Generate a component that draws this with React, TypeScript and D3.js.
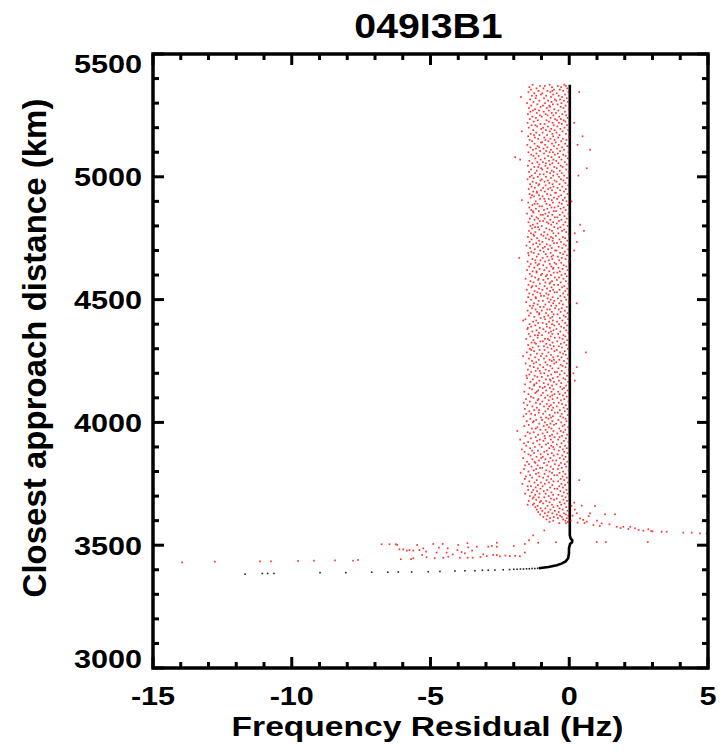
import React from "react";
import * as d3 from "d3";

// ---------- data ----------
const title = "049I3B1";
const xLabel = "Frequency Residual (Hz)";
const yLabel = "Closest approach distance (km)";
const xTicks = [-15, -10, -5, 0, 5];
const yTicks = [3000, 3500, 4000, 4500, 5000, 5500];

// Red residual cloud: each row = [distance km, residual Hz ...]
const cloudRows: number[][] = [
[5375,-1.32,-.71,-.18],[5370,-1.05,-.88,-.41,-.12],[5365,-1.44,-.62,-.29],[5360,-1.18,-.93,-.07],
[5355,-1.38,-.55,-.34],[5350,-1.11,-.79,-.22,-.61],[5345,-1.47,-.68,-.03,.36],[5340,-1.26,-.97,-.45],
[5335,-1.02,-.58,-.15],[5330,-1.35,-.83,-.38,-1.19],[5325,-1.74,-.66,-.26],[5320,-1.21,-.91,-.09],
[5315,-1.41,-.52,-.33],[5310,-1.08,-.76,-.47,-.19],[5305,-1.29,-.64,-.05],[5300,-1.52,-.87,-.28],
[5295,-1.15,-.59,-.42],[5290,-1.37,-.95,-.13,-.72],[5285,-1.03,-.69,-.31],[5280,-1.45,-.81,-.21],
[5275,-1.23,-.54,-.02],[5270,-1.09,-.74,-.39,-1.31],[5265,-1.40,-.92,-.16],[5260,-1.17,-.63,-.48],
[5255,-1.49,-.85,-.25],[5250,-1.06,-.57,-.11,-.78],[5245,-1.33,-.99,-.36],[5240,-1.20,-.67,-.06],
[5235,-1.42,-.51,-.30],[5230,-1.13,-.82,-.44,-.20],[5225,-1.28,-.73,-.14],[5220,-1.50,-.60,-.37,.18],
[5215,-1.04,-.89,-.27],[5210,-1.36,-.56,-.08,-1.22],[5205,-1.16,-.77,-.43],[5200,-1.46,-.94,-.17],
[5195,-1.01,-.65,-.32],[5190,-1.30,-.84,-.04,-.53],[5185,-1.71,-.70,-.24],[5180,-1.19,-.96,-.46],
[5175,-1.39,-.61,-.12],[5170,-1.07,-.80,-.35,-1.27],[5165,-1.48,-.58,-.01,.48],[5160,-1.24,-.90,-.40],
[5155,-1.12,-.68,-.23],[5150,-1.43,-.53,-.10,-.86],[5145,-1.34,-.75,-.29],[5140,-1.02,-.98,-.49],
[5135,-1.25,-.62,-.15],[5130,-1.51,-.87,-.38,.30],[5125,-1.14,-.55,-.07],[5120,-1.40,-.79,-.26,-1.09],
[5115,-1.20,-.93,-.44],[5110,-1.31,-.66,-.19,.75],[5105,-1.05,-.83,-.33],[5100,-1.47,-.59,-.03,-.71],
[5095,-1.18,-.91,-.41],[5090,-1.37,-.52,-.22],[5085,-1.10,-.76,-.13,-1.29],[5080,-1.95,-.64,-.36],
[5075,-1.22,-.88,-.05],[5070,-1.77,-1.03,-.57,-.28],[5065,-1.44,-.73,-.47],[5060,-1.15,-.95,-.16],
[5055,-1.33,-.61,-.39,-.84],[5050,-1.08,-.70,-.09],[5045,-1.49,-.86,-.31],[5040,-1.26,-.54,-.24,-1.12],
[5035,-1.01,-.78,-.45,.63],[5030,-1.38,-.97,-.11],[5025,-1.17,-.63,-.34],[5020,-1.45,-.81,-.02,-.56],
[5015,-1.23,-.69,-.27],[5010,-1.06,-.92,-.43],[5005,-1.35,-.58,-.18,.33],[5000,-1.13,-.84,-.37,-1.42],
[4995,-1.28,-.66,-.08],[4990,-1.50,-.99,-.30],[4985,-1.04,-.53,-.21,-.77],[4980,-1.32,-.89,-.46],
[4975,-1.19,-.72,-.14],[4970,-1.41,-.60,-.35,-1.08],[4965,-1.11,-.85,-.04],[4960,-1.36,-.57,-.25],
[4955,-1.24,-.94,-.42,-.68],[4950,-1.46,-.76,-.12],[4945,-1.02,-.62,-.33],[4940,-1.30,-.88,-.19,-1.17],
[4935,-1.16,-.51,-.48],[4930,-1.43,-.80,-.06],[4925,-1.09,-.67,-.29,-1.34],[4920,-1.27,-.96,-.38],
[4915,-1.39,-.55,-.16],[4910,-1.05,-.74,-.44,-.90],[4905,-1.71,-.63,-.23],[4900,-1.21,-.87,-.10,.08],
[4895,-1.48,-.59,-.36],[4890,-1.14,-.82,-.27,-1.25],[4885,-1.33,-.70,-.05],[4880,-1.07,-.98,-.40],
[4875,-1.44,-.64,-.20,-.53],[4870,-1.20,-.79,-.31],[4865,-1.37,-.91,-.13],[4860,-1.10,-.56,-.47,-1.31],
[4855,-1.29,-.73,-.24],[4850,-1.52,-.86,-.03],[4845,-1.03,-.61,-.34,-.95],[4840,-1.35,-.77,-.17],
[4835,-1.18,-.52,-.43],[4830,-1.42,-.89,-.09,-1.12],[4825,-1.25,-.68,-.28],[4820,-1.06,-.94,-.37],
[4815,-1.47,-.58,-.14,-.81],[4810,-1.15,-.75,-.45],[4805,-1.31,-.65,-.21,.39],[4800,-1.40,-.99,-.06],
[4795,-1.12,-.54,-.32,-1.23],[4790,-1.34,-.83,-.41],[4785,-1.08,-.71,-.18],[4780,-1.45,-.62,-.26,.53],
[4775,-1.22,-.90,-.11],[4770,-1.38,-.57,-.39,.20],[4765,-1.01,-.78,-.02,-1.29],[4760,-1.27,-.93,-.48],
[4755,-1.49,-.66,-.23],[4750,-1.16,-.84,-.15,-.59],[4745,-1.36,-.73,-.35],[4740,-1.09,-.60,-.07],
[4735,-1.43,-.97,-.30,.27],[4730,-1.19,-.55,-.44],[4725,-1.30,-.81,-.19,-1.06],[4720,-1.54,-.69,-.12],
[4715,-1.13,-.88,-.38],[4710,-1.41,-.63,-.25,-.95],[4705,-1.24,-.76,-.04],[4700,-1.05,-.51,-.46,.18],
[4695,-1.37,-.92,-.16],[4690,-1.28,-.67,-.33,-1.48],[4685,-1.11,-.85,-.22],[4680,-1.46,-.58,-.08],
[4675,-1.17,-.79,-.41,-.64],[4670,-1.80,-.96,-.27],[4665,-1.33,-.61,-.13],[4660,-1.04,-.74,-.36,-1.22],
[4655,-1.50,-.87,-.01],[4650,-1.21,-.53,-.29],[4645,-1.39,-.70,-.47,-1.09],[4640,-1.14,-.94,-.20],
[4635,-1.44,-.65,-.10],[4630,-1.26,-.82,-.39,-.57],[4625,-1.07,-.59,-.24],[4620,-1.52,-.90,-.06],
[4615,-1.32,-.72,-.34,-1.18],[4610,-1.18,-.56,-.43],[4605,-1.42,-.98,-.15],[4600,-1.02,-.66,-.28,-.80],
[4595,-1.35,-.84,-.09],[4590,-1.23,-.52,-.37],[4585,-1.57,-.77,-.21,-1.10],[4580,-1.12,-.93,-.45],
[4575,-1.40,-.62,-.12],[4570,-1.29,-.86,-.31,-.68],[4565,-1.06,-.71,-.03],[4560,-1.47,-.55,-.40],
[4555,-1.19,-.89,-.18,-1.33],[4550,-1.36,-.64,-.26],[4545,-1.09,-.80,-.07],[4540,-1.53,-.97,-.35,-.58],
[4535,-1.25,-.69,-.14],[4530,-1.15,-.53,-.44],[4525,-1.44,-.83,-.22,-1.04],[4520,-1.31,-.75,-.05],
[4515,-1.02,-.91,-.32],[4510,-1.48,-.60,-.17,-1.21],[4505,-1.20,-.78,-.41],[4500,-1.38,-.67,-.11],
[4495,-1.10,-.95,-.29,-.54],[4490,-1.55,-.73,-.02],[4485,-1.27,-.58,-.36,.27],[4480,-1.14,-.86,-.23],
[4475,-1.42,-.65,-.47,-1.30],[4470,-1.05,-.92,-.09],[4465,-1.34,-.51,-.27],[4460,-1.21,-.79,-.38,-.70],
[4455,-1.50,-.99,-.16],[4450,-1.16,-.63,-.31],[4445,-1.39,-.84,-.06,-1.08],[4440,-1.08,-.56,-.42],
[4435,-1.45,-.76,-.20],[4430,-1.26,-.90,-.13,-.61],[4425,-1.03,-.68,-.34],[4420,-1.58,-.87,-.04],
[4415,-1.66,-.59,-.25,-1.19],[4410,-1.30,-.73,-.44],[4405,-1.12,-.96,-.15],[4400,-1.43,-.62,-.37,-.82],
[4395,-1.22,-.54,-.08],[4390,-1.37,-.81,-.29],[4385,-1.06,-.70,-.19,-1.49],[4380,-1.51,-.93,-.46],
[4375,-1.18,-.57,-.11],[4370,-1.33,-.85,-.32,-.66],[4365,-1.09,-.74,-.03],[4360,-1.46,-.61,-.40],
[4355,-1.24,-.98,-.21,-1.13],[4350,-1.40,-.67,-.14],[4345,-1.14,-.52,-.35],[4340,-1.55,-.88,-.24,-.77],
[4335,-1.29,-.72,-.07],[4330,-1.04,-.95,-.43],[4325,-1.36,-.60,-.18,-1.25],[4320,-1.20,-.83,-.30],
[4315,-1.48,-.69,-.10],[4310,-1.11,-.56,-.38,-.91],[4305,-1.32,-.78,-.26],[4300,-1.42,-.64,-.05],
[4295,-1.07,-.89,-.45,-1.37],[4290,-1.27,-.53,-.16],[4285,-1.53,-.75,-.33,.60],[4280,-1.16,-.97,-.22],
[4275,-1.39,-.66,-.12],[4270,-1.66,-.82,-.41,-1.02],[4265,-1.23,-.58,-.28],[4260,-1.45,-.91,-.06],
[4255,-1.10,-.71,-.36,-.55],[4250,-1.34,-.63,-.19],[4245,-1.19,-.86,-.47],[4240,-1.57,-.54,-.09,-1.28],
[4235,-1.05,-.79,-.31],[4230,-1.41,-.68,-.24],[4225,-1.28,-.94,-.13,.27],[4220,-1.13,-.61,-.39],
[4215,-1.49,-.85,-.02],[4210,-1.21,-.73,-.27,-1.06],[4205,-1.37,-.52,-.44],[4200,-1.03,-.90,-.17,.15],
[4195,-1.44,-.65,-.34],[4190,-1.25,-.77,-.08,-1.54],[4185,-1.15,-.99,-.42],[4180,-1.52,-.59,-.21],
[4175,-1.31,-.84,-.14,-.70],[4170,-1.08,-.67,-.37,.20],[4165,-1.40,-.55,-.04],[4160,-1.18,-.92,-.29],
[4155,-1.59,-.76,-.46,-1.26],[4150,-1.27,-.62,-.11],[4145,-1.06,-.88,-.32],[4140,-1.43,-.70,-.19,-.96],
[4135,-1.34,-.57,-.25],[4130,-1.12,-.83,-.06],[4125,-1.62,-.64,-.40,-1.17],[4120,-1.22,-.95,-.15],
[4115,-1.47,-.53,-.35],[4110,-1.01,-.78,-.23,-.61],[4105,-1.38,-.69,-.09],[4100,-1.29,-.87,-.43],
[4095,-1.56,-.60,-.18,-1.11],[4090,-1.14,-.74,-.30],[4085,-1.42,-.97,-.03],[4080,-1.20,-.56,-.38,-1.64],
[4075,-1.05,-.81,-.26],[4070,-1.51,-.66,-.12],[4065,-1.33,-.91,-.45,-.72],[4060,-1.17,-.58,-.20],
[4055,-1.60,-.77,-.07],[4050,-1.26,-.63,-.34,-1.09],[4045,-1.44,-.86,-.16],[4040,-1.10,-.52,-.41],
[4035,-1.37,-.94,-.27,-1.55],[4030,-1.23,-.71,-.05],[4025,-1.65,-.59,-.32],[4020,-1.02,-.83,-.22,-.66],
[4015,-1.40,-.75,-.13],[4010,-1.19,-.98,-.39],[4005,-1.53,-.61,-.10,-1.28],[4000,-1.31,-.88,-.29],
[3995,-1.08,-.68,-.47],[3990,-1.46,-.55,-.17,-.80],[3985,-1.62,-.92,-.24],[3980,-1.15,-.73,-.04],
[3975,-1.35,-.64,-.36,-1.21],[3970,-1.04,-.85,-.14],[3965,-1.87,-.57,-.31],[3960,-1.28,-.79,-.21,-1.50],
[3955,-1.42,-.96,-.43],[3950,-1.12,-.62,-.08],[3945,-1.58,-.70,-.26,-.89],[3940,-1.21,-.53,-.35],
[3935,-1.38,-.87,-.12],[3930,-1.77,-.66,-.40,-1.06],[3925,-1.16,-.93,-.19],[3920,-1.48,-.59,-.03],
[3915,-1.30,-.76,-.28,-1.63],[3910,-1.07,-.84,-.45],[3905,-1.55,-.65,-.15],[3900,-1.24,-.99,-.33,-.58],
[3895,-1.41,-.72,-.09],[3890,-1.71,-.54,-.23],[3885,-1.13,-.81,-.38,-1.34],[3880,-1.61,-.90,-.18],
[3875,-1.27,-.63,-.06],[3870,-1.03,-.77,-.42,-1.47],[3865,-1.39,-.56,-.25],[3860,-1.18,-.95,-.13],
[3855,-1.66,-.68,-.34,-1.01],[3850,-1.33,-.86,-.20],[3845,-1.09,-.60,-.47],[3840,-1.52,-.74,-.07,-1.25],
[3835,-1.22,-.91,-.30],[3830,-1.45,-.52,-.16],[3825,-1.14,-.80,-.37,-1.59],[3820,-1.36,-.67,-.11],
[3815,-1.05,-.97,-.27],[3810,-1.63,-.58,-.41,-1.19],[3805,-1.28,-.83,-.02],[3800,-1.47,-.71,-.22],
[3795,-1.75,-.62,-.35,-1.11],[3790,-1.20,-.89,-.14],[3785,-1.41,-.54,-.44],[3780,-1.08,-.76,-.24,-1.56],
[3775,-1.34,-.94,-.09],[3770,-1.60,-.65,-.31],[3765,-1.17,-.82,-.18,.36],[3760,-1.44,-.57,-.40],
[3755,-1.25,-.73,-.05,-1.02],[3750,-1.69,-.88,-.28],[3745,-1.13,-.61,-.15],[3740,-1.38,-.96,-.36,-1.50],
[3735,-1.21,-.69,-.23],[3730,-1.04,-.53,-.43],[3725,-1.48,-.79,-.10,-1.30],[3720,-1.16,-.92,-.32],
[3715,-1.35,-.64,-.19],[3710,-1.59,-.85,-.06,-1.07],[3705,-1.23,-.58,-.39],[3700,-1.42,-.74,-.26],
[3695,-1.10,-.90,-.13,-1.28],[3690,-1.32,-.66,-.45],[3685,-1.19,-.55,-.21],[3680,-1.46,-.83,-.08,-1.02],
[3675,-1.06,-.71,-.34],[3670,-1.27,-.94,-.17],[3665,-1.50,-.62,-.29,-1.31],[3660,-1.14,-.78,-.42],
[3655,-1.22,-.57,-.11],[3650,-1.03,-.86,-.35],[3645,-1.17,-.68,-.24],[3640,-.97,-.52,-.06],
[3635,-1.12,-.75,-.38],[3630,-.88,-.61,-.19],[3625,-1.05,-.45,-.12],[3620,-.79,-.33,-.03],
[3615,-.93,-.56,-.27],[3610,-.69,-.41,-.09],[3605,-.82,-.22],[3600,-.58,-.14],[3595,-.71,-.05],[3590,-.36,-.12],
];

// Red tail to the right (low distances), [Hz, km]
const redRightTail: number[][] = [
[.18,3673],[.45,3661],[.93,3660],[.27,3630],[.75,3630],[1.29,3626],[1.65,3626],[.39,3609],[.63,3596],
[.87,3582],[1.17,3589],[1.71,3575],[1.95,3575],[2.13,3566],[2.37,3569],[2.67,3559],[2.85,3565],[3.33,3555],
[3.51,3555],[4.11,3551],[4.41,3551],[4.71,3548],[4.95,3548],[.99,3513],[1.32,3513],[2.83,3513],[-1.12,3510],
[-.48,3512],[.5,3603],[.2,3645],[.12,3620],[.55,3590],[1.0,3600],[1.45,3585],[2.2,3575],[2.5,3562],[3.0,3556],
[1.1,3578],[.3,3592],[.08,3660],[.05,3600],[1.85,3570],[2.95,3558],[.7,3618],
];

// Red tail to the left, around 3430-3510 km
const redLeftTail: number[][] = [
[-6.76,3504],[-6.48,3504],[-6.25,3504],[-6.20,3501],[-6.12,3483],[-5.98,3483],[-5.76,3480],[-5.62,3478],
[-5.48,3501],[-5.40,3480],[-5.26,3487],[-5.16,3474],[-6.07,3443],[-5.70,3443],[-5.62,3447],[-5.14,3451],
[-4.90,3505],[-4.78,3470],[-4.56,3505],[-4.38,3487],[-4.42,3470],[-4.36,3453],[-4.54,3449],[-4.00,3501],
[-4.03,3480],[-3.88,3472],[-3.76,3467],[-3.67,3508],[-3.64,3491],[-3.94,3449],[-3.66,3449],[-3.48,3449],
[-3.33,3494],[-3.10,3463],[-2.92,3494],[-2.79,3497],[-2.61,3510],[-2.61,3494],[-2.74,3460],[-2.61,3460],
[-2.97,3456],[-2.14,3456],[-2.5,3455],[-2.3,3458],[-1.95,3457],[-1.78,3455],[-3.2,3452],[-2.0,3497],
[-1.6,3505],[-1.45,3520],[-1.3,3540],[-.9,3560],[-1.6,3470],[-5.85,3478],[-5.3,3460],[-4.7,3490],
[-4.2,3462],[-3.5,3478],[-4.85,3447],
[-13.95,3430],[-12.77,3433],[-11.14,3434],[-10.75,3434],[-9.77,3436],[-9.2,3437],[-8.44,3438],
[-7.79,3437],[-7.61,3440],
];

// Black model residual: sparse dots then continuous curve
const blackDots: number[][] = [
[-11.68,3382],[-11.06,3385],[-10.87,3385],[-10.64,3385],[-8.98,3388],[-8.05,3388],[-7.12,3390],[-6.54,3390],
[-6.16,3391],[-5.68,3391],[-5.08,3392],[-4.66,3393],[-4.12,3395],[-3.76,3396],[-3.40,3396],[-3.13,3398],
[-2.92,3398],[-2.68,3399],[-2.38,3400],[-2.15,3401],[-2.0,3402],[-1.88,3402],[-1.76,3403],[-1.65,3403],
[-1.54,3404],[-1.44,3404],[-1.34,3405],[-1.24,3405],[-1.14,3406],
];
const blackCurve: number[][] = [
[-1.1,3406],[-.75,3411],[-.45,3418],[-.28,3425],[-.13,3434],[-.04,3447],[-.01,3467],[-.01,3487],
[.03,3505],[.1,3512],[.11,3520],[.05,3528],[.02,3540],[.02,5375],
];

// ---------- chart ----------
const W = 724, H = 751;
const L = 153, R = 708, T = 54, B = 668;
const FF = "'Liberation Sans', Arial, Helvetica, sans-serif";

export default function App() {
  const x = d3.scaleLinear().domain([-15, 5]).range([L, R]);
  const y = d3.scaleLinear().domain([3000, 5500]).range([B, T]);
  const xMinor = d3.range(-15, 5.001, 1).filter((v) => !xTicks.includes(v));
  const yMinor = d3.range(3000, 5500.1, 100).filter((v) => !yTicks.includes(v));

  const cloudPts = cloudRows.flatMap((r) => r.slice(1).map((v) => [v, r[0]]));
  const redPts = [...cloudPts, ...redRightTail, ...redLeftTail];

  const line = d3.line<number[]>().x((d) => x(d[0])).y((d) => y(d[1]));

  const majLen = 11, minLen = 6;
  const tickSx = 1.2;

  return (
    <svg width={W} height={H} style={{ position: "absolute", left: 0, top: 0, background: "#fff" }}>
      <rect x={0} y={0} width={W} height={H} fill="#fff" />
      {/* black model */}
      <path d={line(blackCurve) || ""} fill="none" stroke="#000" strokeWidth={2.6} />
      {blackDots.map((d, i) => (
        <rect key={"b" + i} x={x(d[0]) - 0.8} y={y(d[1]) - 0.8} width={1.6} height={1.6} fill="#222" />
      ))}
      {/* red residuals */}
      <g fill="#ff0000" opacity={0.8}>
        {redPts.map((d, i) => (
          <rect key={"r" + i} x={x(d[0]) - 0.85} y={y(d[1]) - 0.85} width={1.7} height={1.7} />
        ))}
      </g>
      {/* ticks */}
      <g stroke="#000" strokeWidth={3}>
        {xTicks.map((v) => (
          <g key={"xt" + v}>
            <line x1={x(v)} x2={x(v)} y1={B} y2={B - majLen} />
            <line x1={x(v)} x2={x(v)} y1={T} y2={T + majLen} />
          </g>
        ))}
        {xMinor.map((v) => (
          <g key={"xm" + v}>
            <line x1={x(v)} x2={x(v)} y1={B} y2={B - minLen} />
            <line x1={x(v)} x2={x(v)} y1={T} y2={T + minLen} />
          </g>
        ))}
        {yTicks.map((v) => (
          <g key={"yt" + v}>
            <line x1={L} x2={L + majLen} y1={y(v)} y2={y(v)} />
            <line x1={R} x2={R - majLen} y1={y(v)} y2={y(v)} />
          </g>
        ))}
        {yMinor.map((v) => (
          <g key={"ym" + v}>
            <line x1={L} x2={L + minLen} y1={y(v)} y2={y(v)} />
            <line x1={R} x2={R - minLen} y1={y(v)} y2={y(v)} />
          </g>
        ))}
      </g>
      <rect x={L} y={T} width={R - L} height={B - T} fill="none" stroke="#000" strokeWidth={3.5} />
      {/* tick labels */}
      <g fontFamily={FF} fontWeight="bold" fontSize={25.5} fill="#000">
        {xTicks.map((v) => (
          <text key={"xl" + v} transform={`translate(${x(v)},705) scale(${tickSx},1)`} textAnchor="middle">
            {v}
          </text>
        ))}
        {yTicks.map((v) => {
          const cy = Math.max(T + 9.5, Math.min(B - 9.5, y(v)));
          return (
            <text key={"yl" + v} transform={`translate(142,${cy + 9.3}) scale(${tickSx},1)`} textAnchor="end">
              {v}
            </text>
          );
        })}
      </g>
      <text
        transform={`translate(428.5,38) scale(1.09,1)`}
        textAnchor="middle"
        fontFamily={FF}
        fontWeight="bold"
        fontSize={36}
      >
        {title}
      </text>
      <text
        transform={`translate(427.5,736) scale(1.2,1)`}
        textAnchor="middle"
        fontFamily={FF}
        fontWeight="bold"
        fontSize={28}
      >
        {xLabel}
      </text>
      <text
        transform={`translate(46,348) rotate(-90)`}
        textAnchor="middle"
        fontFamily={FF}
        fontWeight="bold"
        fontSize={33}
      >
        {yLabel}
      </text>
    </svg>
  );
}
